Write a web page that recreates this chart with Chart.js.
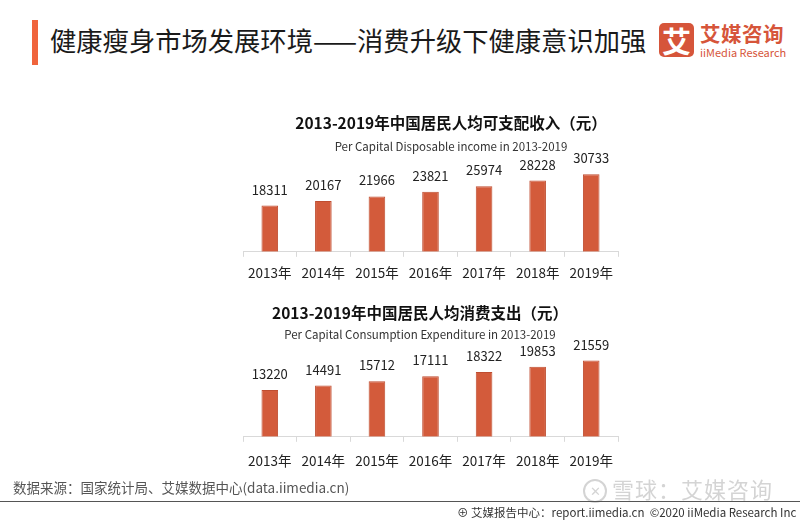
<!DOCTYPE html>
<html>
<head>
<meta charset="utf-8">
<script src="https://cdn.jsdelivr.net/npm/chart.js@4"></script>
<style>
  body { margin: 0; background: #fff; font-family: 'Noto Sans CJK SC', sans-serif; }
  #page { position: relative; width: 800px; height: 520px; overflow: hidden; background: #fff; }
  .abs { position: absolute; }
  #bar { left: 32px; top: 20px; width: 6px; height: 45px; background: #f0643c; }
  #heading { left: 50px; top: 22px; font-size: 26.3px; line-height: 36px; color: #1a1a1a; white-space: nowrap; }
  #logoBox { left: 659px; top: 23px; width: 35px; height: 34px; border-radius: 5px; background: #d6553a;
    color: #fff; font-size: 29px; font-weight: 700; line-height: 34px; text-align: center; }
  #logoCn { left: 700px; top: 20px; font-size: 20.5px; font-weight: 700; color: #d6553a; line-height: 26px; white-space: nowrap; letter-spacing: 0.5px; }
  #logoEn { left: 700px; top: 45px; font-size: 11px; color: #d6553a; line-height: 14px; white-space: nowrap; }
  #source { left: 13px; top: 478px; font-size: 13.5px; color: #555; line-height: 18px; white-space: nowrap; }
  #rule { left: 0; top: 501px; width: 800px; height: 1px; background: #555; }
  #report { left: 457px; top: 504px; font-size: 11.5px; color: #333; line-height: 16px; white-space: nowrap; }
  #wm { left: 583px; top: 473px; font-size: 22px; color: #d4d4d4; line-height: 30px; white-space: nowrap; letter-spacing: 1px; }
  #wmIcon { display: inline-block; width: 20px; height: 20px; border: 2px solid #d4d4d4; border-radius: 50%;
    font-size: 13px; line-height: 20px; text-align: center; vertical-align: 2px; margin-right: 5px; letter-spacing: 0; }
  #c1 { left: 230px; top: 110px; width: 442px; height: 179px; }
  #c2 { left: 210px; top: 300px; width: 420px; height: 180px; }
</style>
</head>
<body>
<div id="page">
  <div id="bar" class="abs"></div>
  <div id="heading" class="abs">健康瘦身市场发展环境——消费升级下健康意识加强</div>
  <div id="logoBox" class="abs">艾</div>
  <div id="logoCn" class="abs">艾媒咨询</div>
  <div id="logoEn" class="abs">iiMedia Research</div>

  <div id="c1" class="abs"><canvas id="incomeChart"></canvas></div>
  <div id="c2" class="abs"><canvas id="spendChart"></canvas></div>

  <div id="source" class="abs">数据来源：国家统计局、艾媒数据中心(data.iimedia.cn)</div>
  <div id="wm" class="abs"><span id="wmIcon">✕</span>雪球：艾媒咨询</div>
  <div id="rule" class="abs"></div>
  <div id="report" class="abs">⊕ 艾媒报告中心：report.iimedia.cn &nbsp;©2020 iiMedia Research Inc</div>
</div>

<script>
// data
const years = ['2013年', '2014年', '2015年', '2016年', '2017年', '2018年', '2019年'];
const income = [18311, 20167, 21966, 23821, 25974, 28228, 30733];
const spending = [13220, 14491, 15712, 17111, 18322, 19853, 21559];

Chart.defaults.font.family = "'Noto Sans CJK SC', sans-serif";
Chart.defaults.color = '#222';

// draws the value above every bar
const valueLabels = {
    id: 'valueLabels',
    afterDatasetsDraw(chart, args, opts) {
        const ctx = chart.ctx;
        const meta = chart.getDatasetMeta(0);
        ctx.save();
        ctx.font = "13px 'Noto Sans CJK SC'";
        ctx.fillStyle = '#222';
        ctx.textAlign = 'center';
        ctx.textBaseline = 'middle';
        meta.data.forEach(function (bar, i) {
            ctx.fillText(chart.data.datasets[0].data[i], bar.x, bar.y - opts.offset);
        });
        ctx.restore();
    }
};

// empty axis used only as a spacer so the title stays centred on the canvas
function spacer(side, w) {
    return {
        position: side,
        display: true,
        grid: { display: false },
        border: { display: false },
        ticks: { display: false },
        afterFit(axis) { axis.width = w; }
    };
}

function makeBarChart(id, values, title, subtitle, yMax, left, right, subPad, tickPad) {
    const ctx = document.getElementById(id).getContext('2d');
    const yAxis = spacer('left', left);
    yAxis.min = 0;
    yAxis.max = yMax;
    return new Chart(ctx, {
        type: 'bar',
        data: {
            labels: years,
            datasets: [{
                data: values,
                backgroundColor: '#d35b3b',
                borderColor: '#bf4d30',
                borderWidth: 1,
                categoryPercentage: 1,
                barPercentage: 0.31
            }]
        },
        options: {
            responsive: true,
            maintainAspectRatio: false,
            animation: false,
            layout: { padding: 0 },
            plugins: {
                legend: { display: false },
                tooltip: { enabled: false },
                title: {
                    display: true,
                    text: title,
                    color: '#111',
                    font: { size: 15.5, weight: 'bold' },
                    padding: { top: 4, bottom: 4 }
                },
                subtitle: {
                    display: true,
                    text: subtitle,
                    color: '#333',
                    font: { size: 11.5 },
                    padding: { top: subPad, bottom: 0 }
                },
                valueLabels: { offset: 16 }
            },
            scales: {
                x: {
                    grid: { display: true, drawOnChartArea: false, tickLength: 5, color: '#d9d9d9' },
                    border: { color: '#d9d9d9' },
                    ticks: { padding: tickPad, color: '#222', font: { size: 13.5 } }
                },
                y: yAxis,
                yr: spacer('right', right)
            }
        },
        plugins: [valueLabels]
    });
}

makeBarChart('incomeChart', income,
    '2013-2019年中国居民人均可支配收入（元）',
    'Per Capital Disposable income in 2013-2019',
    39000, 13, 54, 3, 8);

makeBarChart('spendChart', spending,
    '2013-2019年中国居民人均消费支出（元）',
    'Per Capital Consumption Expenditure in 2013-2019',
    27000, 33, 12, 1, 11);
</script>
</body>
</html>
